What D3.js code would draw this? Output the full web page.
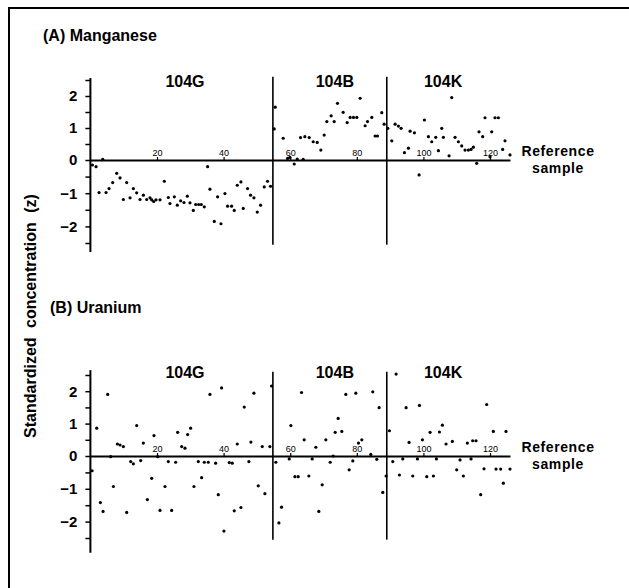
<!DOCTYPE html>
<html><head><meta charset="utf-8">
<script src="https://cdn.jsdelivr.net/npm/d3@7"></script>
<style>
html,body{margin:0;padding:0;background:#fff;}
svg{display:block;font-family:"Liberation Sans",Arial,Helvetica,sans-serif;}
</style></head><body>
<svg id="chart" width="629" height="588"></svg>
<script>
// ---------- data ----------
const groupNames = ["104G", "104B", "104K"];
const groupLabelAt = [28.4, 73.4, 105.9];   // reference-sample position of each group label
const groupBounds = [54.8, 89.0];            // sample position of the group dividers
const xTickValues = [20, 40, 60, 80, 100, 120];
const yTickValues = [-2.5, -2, -1.5, -1, -0.5, 0, 0.5, 1, 1.5, 2, 2.5];
const yLabelValues = [-2, -1, 0, 1, 2];
const yLabelText = ["\u22122", "\u22121", "0", "1", "2"];

// (A) Manganese
const mnSample = [0.6,1.7,2.6,3.7,4.7,5.6,6.7,7.9,8.9,9.9,10.9,11.9,12.9,13.9,14.9,15.9,16.9,17.9,18.4,19.0,19.7,20.9,22.2,23.4,23.9,25.2,26.1,27.1,28.1,29.1,29.9,30.9,31.6,32.5,33.3,34.2,35.2,35.9,37.2,38.2,39.2,40.4,41.2,42.4,43.2,44.1,45.2,45.9,47.2,48.1,49.1,50.1,51.1,52.2,53.2,54.1,55.2,55.5,57.9,59.2,59.9,61.2,62.1,63.1,63.9,64.4,65.7,66.9,68.1,69.2,70.2,71.0,72.3,73.2,74.2,75.9,77.1,78.0,79.0,80.0,81.0,82.5,83.2,84.5,85.5,86.2,87.5,88.2,89.3,90.5,91.5,92.5,93.3,94.3,95.5,96.0,97.3,98.7,100.3,101.5,102.5,103.7,104.5,105.5,106.0,107.7,108.5,109.5,110.5,111.5,112.5,113.5,114.3,115.0,116.0,116.7,117.8,118.5,120.0,120.5,121.5,122.5,123.8,124.5,126.0];
const mnZ = [-0.15,-0.2,-0.98,0.02,-0.98,-0.86,-0.68,-0.4,-0.54,-1.19,-0.68,-1.14,-0.86,-0.99,-1.19,-1.06,-1.19,-1.14,-1.2,-1.25,-1.2,-1.2,-0.64,-1.13,-1.31,-1.11,-1.36,-1.23,-1.28,-1.09,-1.29,-1.52,-1.34,-1.34,-1.34,-1.41,-0.2,-0.88,-1.85,-1.11,-1.92,-1.01,-1.39,-1.39,-1.52,-0.76,-0.66,-1.46,-0.86,-1.06,-1.14,-1.57,-1.36,-0.81,-0.64,-0.79,0.97,1.65,0.68,0.05,0.08,-0.12,0.03,0.7,0.02,0.73,0.7,0.57,0.55,0.31,0.78,1.2,1.38,1.2,1.77,1.49,1.17,1.33,1.33,1.33,1.93,1.07,1.2,1.33,0.75,0.75,1.48,1.12,0.99,0.6,1.12,1.06,0.99,0.23,0.37,0.9,0.85,-0.45,1.25,0.73,0.57,0.71,0.29,0.99,0.71,0.13,1.95,0.71,0.57,0.44,0.31,0.31,0.33,0.4,-0.1,0.88,0.73,1.32,0.1,0.88,1.32,1.32,0.33,0.6,0.16];

// (B) Uranium
const uSample = [0.5,1.9,3.0,3.8,5.2,6.1,6.9,8.1,8.9,9.9,10.9,12.1,12.9,13.9,15.1,15.9,17.1,18.4,19.1,20.2,20.9,22.4,23.4,24.4,25.6,26.2,27.4,28.4,29.2,30.1,31.1,32.4,33.4,34.2,35.4,35.9,37.6,38.4,39.4,40.1,41.7,42.6,43.2,44.1,45.2,46.2,47.6,48.2,49.1,50.4,51.6,52.4,53.9,54.4,55.7,56.6,57.4,59.7,60.2,61.4,62.4,63.4,64.2,65.6,66.6,67.7,68.6,69.6,70.7,72.0,72.9,73.5,74.4,75.5,76.7,77.7,78.8,79.7,80.5,81.5,84.2,84.8,86.0,86.7,87.8,88.8,89.8,90.8,91.8,92.8,93.8,94.8,95.7,96.8,98.2,98.8,99.7,101.0,102.0,103.0,103.9,104.8,105.7,106.8,108.7,110.0,111.0,112.0,113.2,114.3,114.8,115.8,117.2,118.2,119.0,121.0,121.8,123.2,124.0,124.8,126.0];
const uZ = [-0.45,0.86,-1.42,-1.69,1.9,-0.02,-0.93,0.37,0.34,0.29,-1.72,-0.17,-0.24,0.94,-0.14,0.4,-1.33,-0.68,0.63,-0.02,-1.66,-0.93,-0.17,-1.66,-0.19,0.73,0.29,0.24,0.66,0.86,-0.93,-0.17,-0.66,-0.19,-0.19,1.9,-0.22,-1.18,2.1,-2.29,-0.2,-0.22,-1.67,0.37,-1.57,1.51,-0.17,0.43,1.94,-0.91,0.29,-1.15,0.29,2.16,-0.19,-2.04,-1.56,-0.09,0.94,-0.63,-0.63,1.96,0.5,-0.61,-0.09,0.27,-1.69,-0.88,0.5,-0.19,0.0,0.73,1.16,0.76,1.9,-0.42,-0.15,1.94,0.4,0.5,0.05,1.98,-0.1,1.49,-1.11,-0.61,0.78,-0.17,2.53,-0.58,-0.09,1.49,0.42,-0.61,-0.09,1.56,0.5,-0.63,0.73,-0.61,-0.09,0.74,0.95,0.37,0.45,-0.42,-0.12,-0.61,0.4,-0.09,0.47,0.47,-1.18,-0.39,1.59,0.76,-0.4,-0.4,-0.83,0.76,-0.4];

// ---------- layout ----------
const svg = d3.select("#chart");
const BOLD = "bold";

svg.append("path")
  .attr("d", "M9,588 V8 H629")
  .attr("fill", "none").attr("stroke", "#000").attr("stroke-width", 2);

svg.append("text")
  .attr("transform", "translate(36,316) rotate(-90)")
  .attr("text-anchor", "middle")
  .attr("font-size", 16).attr("font-weight", BOLD)
  .attr("word-spacing", "5px")
  .text("Standardized concentration (z)");

const x = d3.scaleLinear().domain([0, 126]).range([90.4, 510]);

const panels = [
  { title: "(A) Manganese", tx: 43, ty: 41, groupY: 87, samples: mnSample, z: mnZ,
    y: d3.scaleLinear().domain([-2.5, 0, 2.5]).range([243, 160, 80]), axisExt: [-2.77, 2.56] },
  { title: "(B) Uranium", tx: 50, ty: 313, groupY: 378, samples: uSample, z: uZ,
    y: d3.scaleLinear().domain([-2.5, 0, 2.5]).range([538, 456, 375]), axisExt: [-2.95, 2.65] }
];

panels.forEach(p => {
  const g = svg.append("g");
  const y = p.y;
  const y0 = y(0);

  g.append("text").attr("x", p.tx).attr("y", p.ty)
    .attr("font-size", 16).attr("font-weight", BOLD).text(p.title);

  // y axis
  const yAxis = d3.axisLeft(y).tickValues(yTickValues).tickSize(5).tickSizeOuter(0)
    .tickFormat(() => "");
  const ya = g.append("g").attr("transform", `translate(${x(0)},0)`).call(yAxis);
  ya.select(".domain").remove();
  ya.selectAll(".tick line").attr("stroke-width", 1.5);
  g.append("line").attr("x1", x(0)).attr("x2", x(0))
    .attr("y1", y(p.axisExt[1])).attr("y2", y(p.axisExt[0]))
    .attr("stroke", "#000").attr("stroke-width", 2);
  g.selectAll(".ylab").data(yLabelValues).join("text")
    .attr("x", x(0) - 13).attr("y", d => y(d)).attr("dy", "0.36em")
    .attr("text-anchor", "end").attr("font-size", 15).attr("font-weight", BOLD)
    .text((d, i) => yLabelText[i]);

  // x axis
  const xAxis = d3.axisTop(x).tickValues(xTickValues).tickSize(3).tickSizeOuter(0).tickPadding(1);
  const xa = g.append("g").attr("transform", `translate(0,${y0})`).call(xAxis);
  xa.select(".domain").attr("stroke-width", 2);
  xa.selectAll(".tick text").attr("font-size", 9).attr("font-family", "'Liberation Sans',Arial,sans-serif");
  xa.selectAll(".tick line").attr("stroke-width", 1.2);

  // group dividers
  g.selectAll(".div").data(groupBounds).join("line")
    .attr("x1", d => x(d)).attr("x2", d => x(d))
    .attr("y1", y(2.6)).attr("y2", y(-2.55))
    .attr("stroke", "#000").attr("stroke-width", 1.6);

  // group labels
  g.selectAll(".grp").data(groupNames).join("text")
    .attr("x", (d, i) => x(groupLabelAt[i])).attr("y", p.groupY)
    .attr("text-anchor", "middle").attr("font-size", 16).attr("font-weight", BOLD)
    .text(d => d);

  // axis title (two lines)
  const t = g.append("text").attr("x", 558).attr("y", y0 - 4)
    .attr("text-anchor", "middle").attr("font-size", 14).attr("font-weight", BOLD)
    .attr("letter-spacing", "0.6px");
  t.append("tspan").attr("x", 558).text("Reference");
  t.append("tspan").attr("x", 558).attr("dy", 16.5).text("sample");

  // points
  g.selectAll(".pt").data(p.samples).join("circle")
    .attr("cx", d => x(d)).attr("cy", (d, i) => y(p.z[i]))
    .attr("r", 1.6).attr("fill", "#000");
});
</script>
</body></html>
